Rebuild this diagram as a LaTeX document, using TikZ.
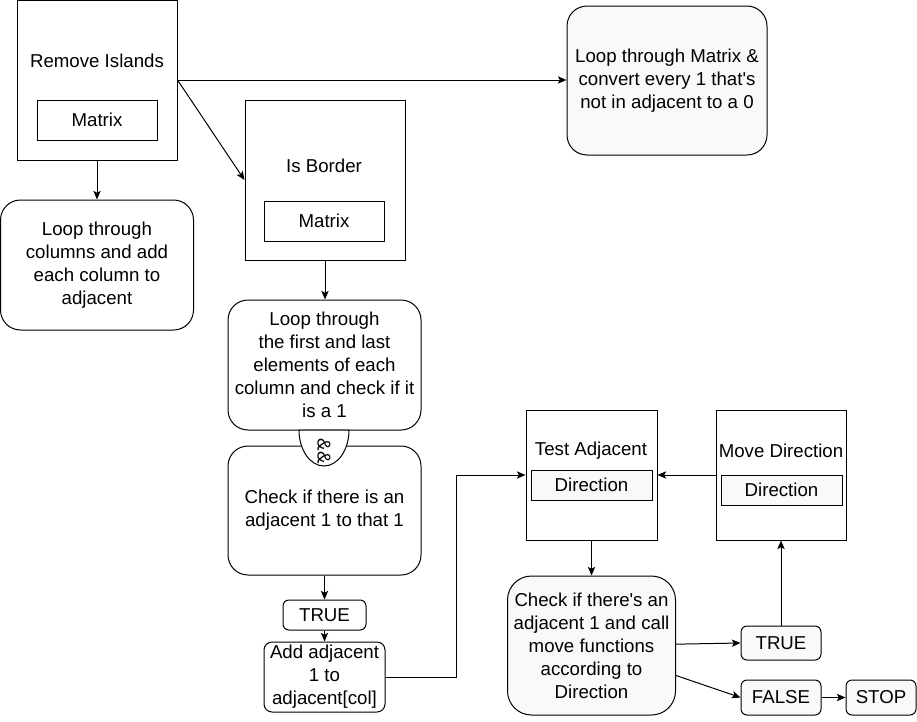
\documentclass[tikz,border=0pt]{standalone}
\usepackage{fontspec}
\setmainfont{Liberation Sans}
\usetikzlibrary{arrows.meta,calc}
\definecolor{lightfill}{HTML}{F9F9F9}
\begin{document}
\begin{tikzpicture}[x=0.75pt,y=-0.75pt,
  every node/.style={font=\fontsize{14}{17.25}\selectfont, inner sep=0pt, align=center},
  sq/.style={draw, line width=0.75pt, rectangle, fill=white},
  rbox/.style={draw, line width=0.75pt, rectangle, rounded corners=15pt, fill=white},
  sbox/.style={draw, line width=0.75pt, rectangle, rounded corners=4.5pt, fill=white},
  gbox/.style={fill=lightfill},
  arr/.style={draw, line width=0.75pt, -{Stealth[length=6.5pt,width=5.5pt,inset=1.5pt]}},
  ln/.style={draw, line width=0.75pt}]
\useasboundingbox (0,0) rectangle (917,721);

% Remove Islands
\node[sq, minimum width=120pt, minimum height=120pt] (RI) at (97,80) {};
\node (RIl) at (97,61) {Remove Islands};
\node[sq, minimum width=90pt, minimum height=30pt] (RIm) at (97,120) {Matrix};

% Loop through columns
\node[rbox, minimum width=144.75pt, minimum height=97.5pt] (LC) at (97,265)
  {Loop through\\columns and add\\each column to\\adjacent};

% Loop through Matrix
\node[rbox, gbox, minimum width=150pt, minimum height=111.75pt] (LM) at (667,80.5)
  {Loop through Matrix \&\\convert every 1 that\textquotesingle s\\not in adjacent to a 0};

% Is Border
\node[sq, minimum width=120pt, minimum height=120pt] (IB) at (325,180) {};
\node (IBl) at (324,166) {Is Border};
\node[sq, minimum width=90pt, minimum height=30pt] (IBm) at (324,221) {Matrix};

% Loop through first and last
\node[rbox, minimum width=144.75pt, minimum height=97.5pt] (LF) at (324.5,365)
  {Loop through\\the first and last\\elements of each\\column and check if it\\is a 1};

% Check adjacent
\node[rbox, minimum width=144.75pt, minimum height=96.75pt] (CK) at (324.5,510.5)
  {Check if there is an\\adjacent 1 to that 1};

% && connector
\draw[ln, fill=white] (299,430) coordinate (ANDl)
  arc[start angle=180, end angle=360, x radius=18.75pt, y radius=27pt] -- cycle;
\node[font=\fontsize{14}{14}\selectfont, rotate=-90] (AND) at (324,451) {\&\&};

% TRUE (left)
\node[sbox, minimum width=62.25pt, minimum height=22.5pt] (T1) at (324.5,615) {TRUE};

% Add adjacent
\node[sbox, rounded corners=6pt, minimum width=90.75pt, minimum height=52.5pt] (AA) at (324.5,677)
  {Add adjacent\\1 to\\adjacent[col]};

% Test Adjacent
\node[sq, minimum width=98.25pt, minimum height=97.5pt] (TA) at (591.5,475) {};
\node (TAl) at (591,451) {Test Adjacent};
\node[sq, gbox, minimum width=90.75pt, minimum height=22.5pt] (TAd) at (591.5,485) {Direction};

% Move Direction
\node[sq, minimum width=97.5pt, minimum height=97.5pt] (MD) at (781,475) {};
\node (MDl) at (781,451) {Move Direction};
\node[sq, gbox, minimum width=90.75pt, minimum height=22.5pt] (MDd) at (781.5,490) {Direction};

% Check if there's an adjacent
\node[rbox, gbox, rounded corners=18pt, minimum width=126pt, minimum height=104.25pt] (CK2) at (591.5,645.5)
  {Check if there\textquotesingle s an\\adjacent 1 and call\\move functions\\according to\\Direction};

% TRUE / FALSE / STOP
\node[sbox, gbox, minimum width=60pt, minimum height=25.5pt] (T2) at (781,643) {TRUE};
\node[sbox, gbox, minimum width=60pt, minimum height=26.25pt] (F2) at (781,697.5) {FALSE};
\node[sbox, gbox, minimum width=52.5pt, minimum height=26.25pt] (ST) at (881,697.5) {STOP};

% connectors
\draw[arr] (RI.south) -- (RI.south |- LC.north);
\draw[arr] (RI.east) -- (RI.east -| LM.west);
\draw[arr] (RI.east) -- (IB.west);
\draw[arr] (IB.south) -- (IB.south |- LF.north);
\draw[arr] (CK.south) -- (T1.north);
\draw[arr] (T1.south) -- (AA.north);
\draw[arr] (AA.east) -- ++(71,0) |- (TA.west);
\draw[arr] (MD.west) -- (TA.east);
\draw[arr] (TA.south) -- (CK2.north);
\draw[arr] ([yshift=1pt]CK2.east) -- (T2.west);
\draw[arr] (T2.north) -- (MD.south);
\draw[arr] ([yshift=-22.5pt]CK2.east) -- (F2.west);
\draw[arr] (F2.east) -- (ST.west);
\end{tikzpicture}
\end{document}
